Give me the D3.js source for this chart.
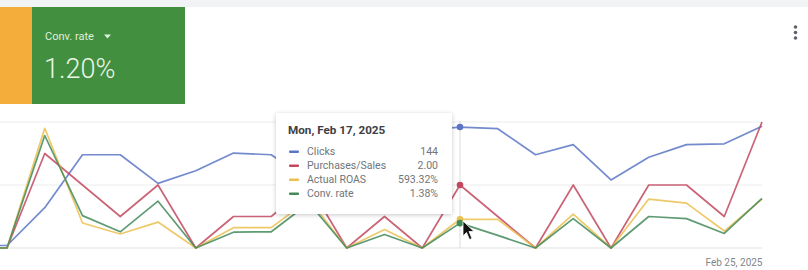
<!DOCTYPE html>
<html><head><meta charset="utf-8">
<script src="https://cdn.jsdelivr.net/npm/d3@7"></script>
<style>
body{margin:0;background:#fff;font-family:Roboto,"Noto Sans",sans-serif;}
svg{display:block}
</style>
</head><body>
<svg id="c" width="808" height="270"></svg>
<script>
const dates = ["2025-02-04","2025-02-05","2025-02-06","2025-02-07","2025-02-08","2025-02-09","2025-02-10","2025-02-11","2025-02-12","2025-02-13","2025-02-14","2025-02-15","2025-02-16","2025-02-17","2025-02-18","2025-02-19","2025-02-20","2025-02-21","2025-02-22","2025-02-23","2025-02-24","2025-02-25"];
const clicks    = [3, 3, 48, 111, 111, 77, 92, 113, 111, 80, 118, 133, 140, 144, 142, 111, 123, 81, 108, 123, 124, 145];
const purchases = [0, 0, 3, 2, 1, 2, 0, 1, 1, 2, 0, 1, 0, 2, 1, 0, 2, 0, 2, 2, 1, 4];
const roas      = [0, 0, 2470, 515, 290, 535, 0, 420, 420, 1000, 0, 380, 0, 593.32, 590, 0, 700, 0, 1010, 925, 350, 1010];
const convRate  = [0, 0, 6.25, 1.8, 0.9, 2.6, 0, 0.88, 0.9, 2.5, 0, 0.75, 0, 1.38, 0.7, 0, 1.63, 0, 1.75, 1.63, 0.81, 2.76];
const seriesNames = ["Clicks","Purchases/Sales","Actual ROAS","Conv. rate"];
const hoverDate = "2025-02-17";
const hoverTitle = "Mon, Feb 17, 2025";
const hoverValues = ["144","2.00","593.32%","1.38%"];
const endLabelDate = "2025-02-25";
const endLabel = "Feb 25, 2025";
const cardLabel = "Conv. rate";
const cardValue = "1.20%";

const parse = d3.utcParse("%Y-%m-%d");
const D = dates.map(parse);
const svg = d3.select("#c");

const colors = ["#5a76c4","#c2485f","#ebc050","#438a59"];
const domains = [[0,150],[0,4],[0,2600],[0,7]];
const values = [clicks, purchases, roas, convRate];

// header band & cards
svg.append("rect").attr("x",0).attr("y",0).attr("width",808).attr("height",7).attr("fill","#f1f3f4");
svg.append("rect").attr("x",0).attr("y",7).attr("width",32).attr("height",97).attr("fill","#f4ad3a");
svg.append("rect").attr("x",32).attr("y",7).attr("width",153).attr("height",97).attr("fill","#428f3f");
svg.append("text").attr("x",45).attr("y",40).attr("fill","#dff0dc").attr("font-size",11).text(cardLabel);
svg.append("path").attr("d","M104,34.5 L111,34.5 L107.5,38.5Z").attr("fill","#dff0dc");
svg.append("text").attr("x",44).attr("y",77.5).attr("fill","#eaf6e8").attr("font-size",27).attr("font-weight",300).text(cardValue);
// menu dots
[27,32.5,38].forEach(cy=>svg.append("circle").attr("cx",795.5).attr("cy",cy).attr("r",1.8).attr("fill","#5f6368"));

// scales
const x = d3.scaleUtc().domain([D[0], D[D.length-1]]).range([-30.75, 762]);
const ys = domains.map(d=>d3.scaleLinear().domain(d).range([248,122]));

// gridlines
const g0 = ys[1];
svg.append("g").selectAll("line").data([0,2,4]).join("line")
  .attr("x1",0).attr("x2",762).attr("y1",d=>g0(d)).attr("y2",d=>g0(d))
  .attr("stroke",(d,i)=>i===0?"#e0e0e0":"#ececec").attr("stroke-width",1);

// x axis label
const ax = svg.append("g").attr("transform","translate(0,252)")
  .call(d3.axisBottom(x).tickValues([parse(endLabelDate)]).tickSize(0).tickFormat(()=>endLabel));
ax.select(".domain").remove();
ax.selectAll("text").attr("text-anchor","end").attr("dx",0).attr("dy","1.05em")
  .attr("fill","#80868b").attr("font-size",10).attr("font-family","Roboto,sans-serif");

// hover line
const hx = x(parse(hoverDate));
svg.append("line").attr("x1",hx).attr("x2",hx).attr("y1",121).attr("y2",248).attr("stroke","#dadce0").attr("stroke-width",1);

// lines
values.forEach((vals,k)=>{
  const line = d3.line().x((d,i)=>x(D[i])).y(d=>ys[k](d));
  svg.append("path").datum(vals).attr("d",line).attr("fill","none")
    .attr("stroke",colors[k]).attr("stroke-width",1.7).attr("stroke-linejoin","round").attr("opacity",0.85);
});
// hover dots
const hi = dates.indexOf(hoverDate);
values.forEach((vals,k)=>{
  svg.append("circle").attr("cx",hx).attr("cy",ys[k](vals[hi])).attr("r",3.3).attr("fill",colors[k]);
});

// tooltip
const defs = svg.append("defs");
const f = defs.append("filter").attr("id","sh").attr("x","-20%").attr("y","-20%").attr("width","140%").attr("height","150%");
f.append("feDropShadow").attr("dx",0).attr("dy",1).attr("stdDeviation",2).attr("flood-color","#000").attr("flood-opacity",0.22);
const tt = svg.append("g");
tt.append("rect").attr("x",276).attr("y",113).attr("width",176).attr("height",101).attr("rx",2).attr("fill","#fff").attr("filter","url(#sh)");
tt.append("text").attr("x",288).attr("y",134).attr("font-size",11.7).attr("font-weight",700).attr("fill","#3c4043").text(hoverTitle);
seriesNames.forEach((n,k)=>{
  const yy = 155 + k*14;
  tt.append("rect").attr("x",289).attr("y",yy-4.5).attr("width",10).attr("height",2.5).attr("rx",1).attr("fill",colors[k]);
  tt.append("text").attr("x",307).attr("y",yy).attr("font-size",10.5).attr("fill","#70757a").text(n);
  tt.append("text").attr("x",438).attr("y",yy).attr("text-anchor","end").attr("font-size",10.5).attr("fill","#70757a").text(hoverValues[k]);
});

// cursor
svg.append("path")
  .attr("d","M463,221 L463,236 L466.5,232.5 L469.5,239.5 L472,238.5 L469,231.5 L474,231.5 Z")
  .attr("fill","#111").attr("stroke","#fff").attr("stroke-width",0.8);
</script>
</body></html>
